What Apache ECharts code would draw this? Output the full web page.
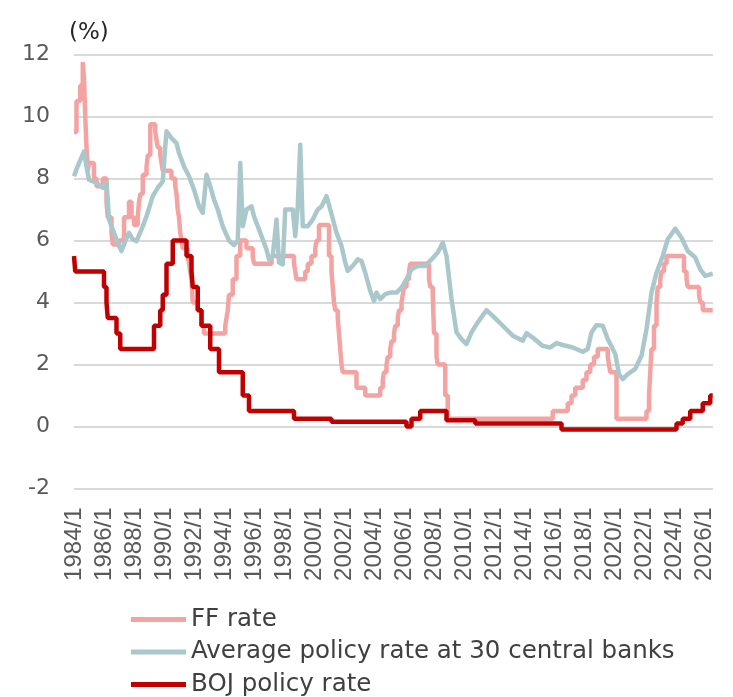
<!DOCTYPE html>
<html>
<head>
<meta charset="utf-8">
<script src="https://cdn.jsdelivr.net/npm/echarts/dist/echarts.min.js"></script>
<style>
  html, body { margin: 0; padding: 0; background: #fff; }
  #chart { width: 733px; height: 697px; }
</style>
</head>
<body>
<div id="chart"></div>
<script>
// FF rate (target / upper bound), change points
var ffDates = ['1984/1', '1984/3', '1984/6', '1984/8', '1984/9', '1984/10', '1984/11', '1984/12',
  '1985/1', '1985/5', '1985/7', '1985/12', '1986/3', '1986/4', '1986/7', '1986/8',
  '1987/1', '1987/5', '1987/9', '1987/11', '1988/1', '1988/4', '1988/5', '1988/6', '1988/8', '1988/11', '1988/12',
  '1989/2', '1989/6', '1989/7', '1989/8', '1989/10', '1989/11', '1989/12',
  '1990/7', '1990/10', '1990/11', '1990/12', '1991/1', '1991/2', '1991/3', '1991/4', '1991/8', '1991/9', '1991/10', '1991/11', '1991/12',
  '1992/4', '1992/7', '1992/9', '1994/2', '1994/3', '1994/4', '1994/5', '1994/8', '1994/11',
  '1995/2', '1995/7', '1995/12', '1996/1', '1997/3', '1998/9', '1998/10', '1998/11',
  '1999/6', '1999/8', '1999/11', '2000/2', '2000/3', '2000/5',
  '2001/1', '2001/3', '2001/4', '2001/5', '2001/6', '2001/8', '2001/9', '2001/10', '2001/11', '2001/12',
  '2002/11', '2003/6', '2004/6', '2004/8', '2004/9', '2004/11', '2004/12',
  '2005/2', '2005/3', '2005/5', '2005/6', '2005/8', '2005/9', '2005/11', '2005/12',
  '2006/1', '2006/3', '2006/5', '2006/6', '2007/9', '2007/10', '2007/12',
  '2008/1', '2008/3', '2008/4', '2008/10', '2008/12', '2015/12', '2016/12',
  '2017/3', '2017/6', '2017/12', '2018/3', '2018/6', '2018/9', '2018/12',
  '2019/8', '2019/9', '2019/10', '2020/3',
  '2022/3', '2022/5', '2022/6', '2022/7', '2022/9', '2022/11', '2022/12',
  '2023/2', '2023/3', '2023/5', '2023/7', '2024/9', '2024/11', '2024/12',
  '2025/9', '2025/10', '2025/12', '2026/8'];
var ffValues = [9.5, 10.5, 11, 11.75, 11.25, 10, 9, 8.25,
  8.5, 8, 7.75, 8, 7.25, 6.75, 6.25, 5.875,
  6, 6.75, 7.25, 6.75, 6.5, 6.75, 7.25, 7.5, 8.125, 8.375, 8.75,
  9.75, 9.5, 9.25, 9, 8.75, 8.5, 8.25,
  8, 7.75, 7.5, 7, 6.75, 6.25, 6, 5.75, 5.5, 5.25, 5, 4.75, 4,
  3.75, 3.25, 3, 3.25, 3.5, 3.75, 4.25, 4.75, 5.5,
  6, 5.75, 5.5, 5.25, 5.5, 5.25, 5, 4.75,
  5, 5.25, 5.5, 5.75, 6, 6.5,
  5.5, 5, 4.5, 4, 3.75, 3.5, 3, 2.5, 2, 1.75,
  1.25, 1, 1.25, 1.5, 1.75, 2, 2.25,
  2.5, 2.75, 3, 3.25, 3.5, 3.75, 4, 4.25,
  4.5, 4.75, 5, 5.25, 4.75, 4.5, 4.25,
  3, 2.25, 2, 1, 0.25, 0.5, 0.75,
  1, 1.25, 1.5, 1.75, 2, 2.25, 2.5,
  2.25, 2, 1.75, 0.25,
  0.5, 1, 1.75, 2.5, 3.25, 4, 4.5,
  4.75, 5, 5.25, 5.5, 5, 4.75, 4.5,
  4.25, 4, 3.75, 3.75];

// Average policy rate at 30 central banks
var avgDates = ['1984/1', '1984/4', '1984/9', '1984/11', '1985/1', '1985/7', '1985/12',
  '1986/3', '1986/4', '1986/5', '1986/9', '1987/1', '1987/3', '1987/6', '1987/9', '1987/12',
  '1988/3', '1988/7', '1988/11', '1989/4', '1989/8', '1989/12', '1990/2', '1990/3', '1990/7', '1990/11',
  '1991/1', '1991/5', '1991/9', '1992/1', '1992/5', '1992/8', '1992/11', '1993/2', '1993/5', '1993/8', '1993/12',
  '1994/5', '1994/9', '1994/12', '1995/2', '1995/4', '1995/7', '1995/11', '1996/1', '1996/5', '1996/11',
  '1997/1', '1997/4', '1997/7', '1997/9', '1997/12', '1998/2', '1998/8', '1998/10', '1998/12',
  '1999/2', '1999/4', '1999/8', '1999/12', '2000/4', '2000/7', '2000/11', '2001/2', '2001/7', '2001/11',
  '2002/2', '2002/4', '2002/8', '2002/12', '2003/3', '2003/6', '2003/10', '2004/1', '2004/3', '2004/6', '2004/10',
  '2005/2', '2005/7', '2005/11', '2006/3', '2006/7', '2006/12', '2007/6', '2007/11', '2008/4', '2008/8', '2008/11',
  '2009/3', '2009/7', '2009/11', '2010/3', '2010/7', '2010/12', '2011/7', '2011/12', '2012/8',
  '2013/4', '2013/12', '2014/3', '2014/8', '2015/4', '2015/10', '2016/3', '2016/8', '2017/4', '2017/12',
  '2018/4', '2018/7', '2018/11', '2019/4', '2019/8', '2020/2', '2020/5', '2020/8', '2020/12',
  '2021/6', '2021/11', '2022/3', '2022/7', '2022/11', '2023/4', '2023/8', '2024/2', '2024/7', '2024/12',
  '2025/6', '2025/10', '2026/2', '2026/6', '2026/8'];
var avgValues = [8.07, 8.4, 8.87, 8.39, 7.96, 7.86, 7.7,
  7.86, 7.32, 6.68, 6.25, 5.82, 5.66, 5.98, 6.25, 6.04,
  5.98, 6.36, 6.78, 7.43, 7.7, 7.91, 9.03, 9.52, 9.3, 9.14,
  8.82, 8.39, 8.07, 7.64, 7.1, 6.89, 8.12, 7.75, 7.32, 7.0, 6.46,
  6.0, 5.85, 6.0, 8.5, 6.46, 7.0, 7.1, 6.78, 6.36, 5.71,
  5.39, 5.5, 6.68, 5.29, 5.23, 7.0, 7.0, 6.14, 7.1,
  9.09, 6.46, 6.46, 6.68, 7.0, 7.1, 7.43, 7.0, 6.25, 5.82,
  5.29, 5.02, 5.18, 5.39, 5.34, 4.96, 4.37, 4.05, 4.32, 4.11, 4.27,
  4.32, 4.32, 4.48, 4.75, 5.07, 5.18, 5.18, 5.39, 5.61, 5.93, 5.5,
  4.11, 3.04, 2.82, 2.66, 3.04, 3.36, 3.75, 3.57, 3.25,
  2.93, 2.77, 3.01, 2.87, 2.6, 2.55, 2.69, 2.63, 2.55, 2.41,
  2.5, 3.04, 3.27, 3.25, 2.82, 2.34, 1.69, 1.53, 1.69,
  1.86, 2.28, 3.14, 4.32, 4.96, 5.5, 6.04, 6.38, 6.09, 5.66,
  5.45, 5.07, 4.86, 4.91, 4.93];

// BOJ policy rate, change points
var bojDates = ['1984/1', '1984/2', '1986/1', '1986/3', '1986/4', '1986/11', '1987/2',
  '1989/5', '1989/10', '1989/12', '1990/3', '1990/8', '1991/7', '1991/11', '1991/12',
  '1992/4', '1992/7', '1993/2', '1993/9', '1995/4', '1995/9', '1998/9', '2001/3',
  '2006/3', '2006/7', '2007/2', '2008/11', '2010/10', '2016/7',
  '2024/3', '2024/8', '2025/2', '2025/12', '2026/6', '2026/8'];
var bojValues = [5.5, 5, 4.5, 4, 3.5, 3, 2.5,
  3.25, 3.75, 4.25, 5.25, 6, 5.5, 5, 4.5,
  3.75, 3.25, 2.5, 1.75, 1, 0.5, 0.25, 0.15,
  0, 0.25, 0.5, 0.2, 0.1, -0.1,
  0.1, 0.25, 0.5, 0.75, 1, 1];

var tickYears = [1984, 1986, 1988, 1990, 1992, 1994, 1996, 1998, 2000, 2002, 2004,
  2006, 2008, 2010, 2012, 2014, 2016, 2018, 2020, 2022, 2024, 2026];

function toYear(d) {
  var p = d.split('/');
  return +p[0] + (+p[1] - 1) / 12;
}
function pairs(dates, values) {
  return dates.map(function (d, i) { return [toYear(d), values[i]]; });
}

var myChart = echarts.init(document.getElementById('chart'));
var option = {
  animation: false,
  title: {
    text: '(%)',
    left: 64,
    top: 17,
    textStyle: { fontFamily: 'DejaVu Sans', fontSize: 23, fontWeight: 'normal', color: '#262626' }
  },
  grid: { left: 74, right: 20, top: 54.5, bottom: 208.5 },
  legend: {
    orient: 'vertical',
    left: 131,
    top: 607,
    padding: 0,
    icon: 'rect',
    itemWidth: 55,
    itemHeight: 5,
    itemGap: 7.5,
    textStyle: { fontFamily: 'DejaVu Sans', fontSize: 24.5, lineHeight: 24, color: '#404040' },
    data: ['FF rate', 'Average policy rate at 30 central banks', 'BOJ policy rate']
  },
  xAxis: {
    type: 'value',
    min: 1984,
    max: 2026.6,
    interval: 2,
    axisLine: { show: false },
    axisTick: { show: false },
    splitLine: { show: false },
    axisLabel: {
      customValues: tickYears,
      rotate: 90,
      margin: 19,
      fontFamily: 'Liberation Sans',
      fontSize: 24,
      color: '#595959',
      formatter: function (v) { return tickYears.indexOf(v) >= 0 ? v + '/1' : ''; }
    }
  },
  yAxis: {
    type: 'value',
    min: -2,
    max: 12,
    interval: 2,
    axisLine: { show: false },
    axisTick: { show: false },
    splitLine: { lineStyle: { color: '#d9d9d9', width: 2 } },
    axisLabel: { margin: 24, fontFamily: 'DejaVu Sans', fontSize: 22, color: '#595959' }
  },
  series: [{
    name: 'FF rate',
    type: 'line',
    step: 'end',
    symbol: 'none',
    color: '#f3a3a1',
    lineStyle: { width: 4.5, color: '#f3a3a1' },
    data: pairs(ffDates, ffValues)
  }, {
    name: 'Average policy rate at 30 central banks',
    type: 'line',
    symbol: 'none',
    color: '#aac8cb',
    lineStyle: { width: 4.5, color: '#aac8cb', join: 'round' },
    data: pairs(avgDates, avgValues)
  }, {
    name: 'BOJ policy rate',
    type: 'line',
    step: 'end',
    symbol: 'none',
    color: '#c00000',
    lineStyle: { width: 4.5, color: '#c00000' },
    data: pairs(bojDates, bojValues)
  }]
};
myChart.setOption(option);
window.addEventListener('resize', function () {
  myChart.resize();
});
</script>
</body>
</html>
